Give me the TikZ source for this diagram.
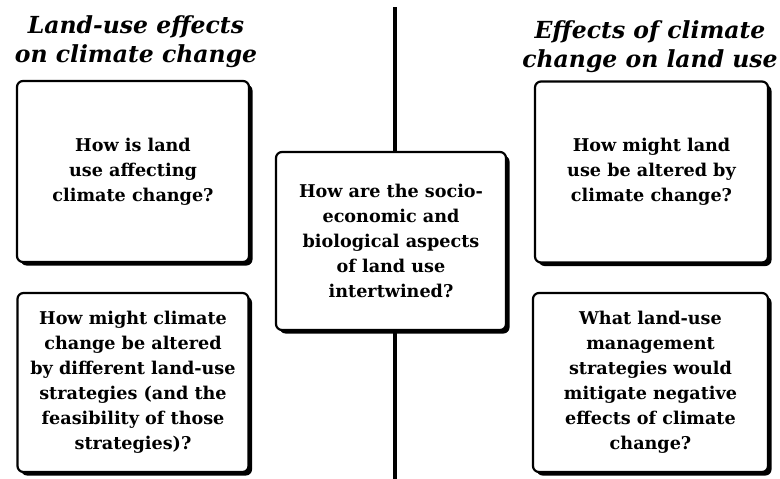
\documentclass[tikz,border=0pt]{standalone}
\usepackage{fontspec}
\setmainfont{DejaVu Serif}
\usetikzlibrary{shadows}

\begin{document}
\begin{tikzpicture}[x=1pt,y=-1pt,
  question/.style={draw,line width=2.2pt,rounded corners=6pt,fill=white,
    drop shadow={shadow xshift=3.5pt,shadow yshift=-3.5pt,fill=black,opacity=1},
    align=center,font=\bfseries\fontsize{17.6}{25}\selectfont,inner sep=0pt},
  heading/.style={align=center,font=\bfseries\itshape\fontsize{23.5}{29}\selectfont,inner sep=0pt}]
\useasboundingbox (0,0) rectangle (780,479);

% divider
\coordinate (top) at (395,7);
\coordinate (bottom) at (395,479);

% headings
\node[heading] (lefthead) at (136,42) {Land-use effects\\on climate change};
\node[heading] (righthead) at (650,47) {Effects of climate\\change on land use};

% centre question
\node[question,minimum width=230,minimum height=178] (mid) at (391,241)
  {How are the socio-\\economic and\\biological aspects\\of land use\\intertwined?};
\draw[line width=4.5pt] (top) -- (top |- mid.north);
\draw[line width=4.5pt] (bottom |- mid.south) -- (bottom);

% left column
\node[question,minimum width=232,minimum height=181] (lefttop) at (133,171.5)
  {How is land\\use affecting\\climate change?};
\node[question,minimum width=231,minimum height=179] (leftbot) at (133,382.5)
  {How might climate\\change be altered\\by different land-use\\strategies (and the\\feasibility of those\\strategies)?};

% right column
\node[question,minimum width=233,minimum height=181] (righttop) at (651.5,172)
  {How might land\\use be altered by\\climate change?};
\node[question,minimum width=235,minimum height=179] (rightbot) at (650.5,382.5)
  {What land-use\\management\\strategies would\\mitigate negative\\effects of climate\\change?};
\end{tikzpicture}
\end{document}
